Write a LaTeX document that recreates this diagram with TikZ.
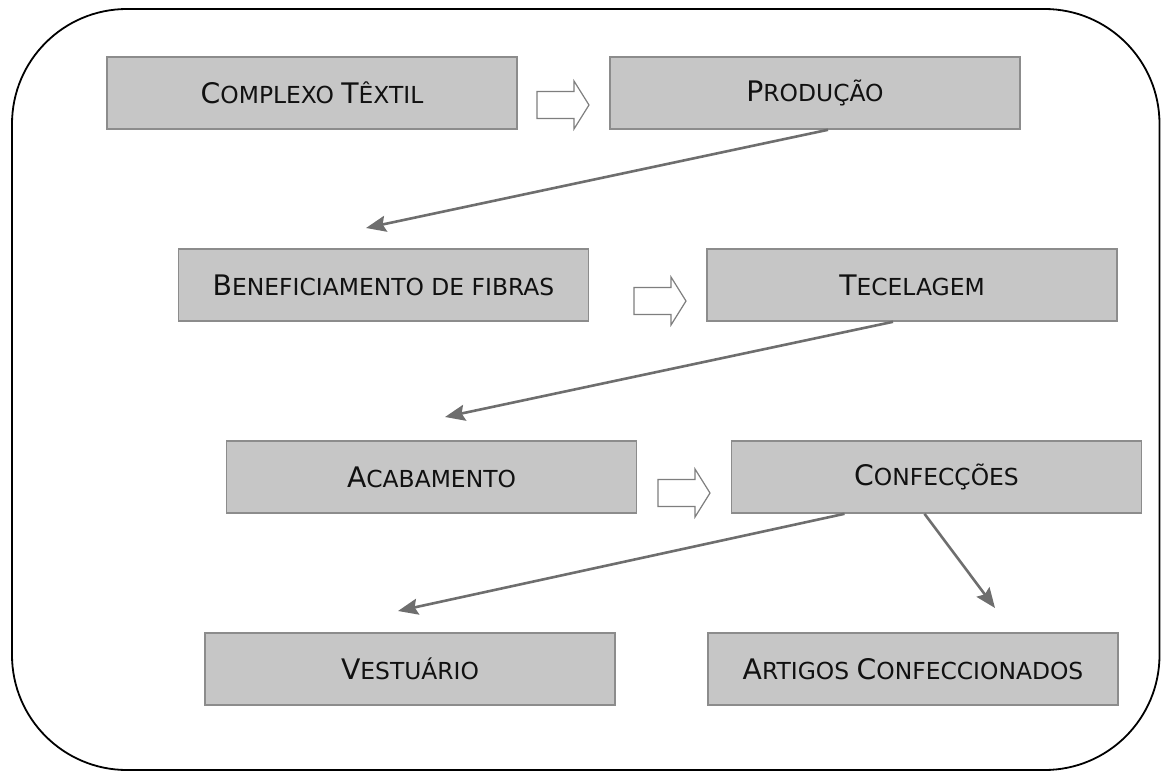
\documentclass[tikz,border=0pt]{standalone}
\usepackage{fontspec}
\setmainfont{DejaVu Sans}
\usetikzlibrary{arrows.meta,calc}
\definecolor{boxfill}{HTML}{C6C6C6}
\definecolor{boxline}{HTML}{8C8C8C}
\definecolor{conncol}{HTML}{6E6E6E}
\definecolor{txtcol}{HTML}{111111}
\newcommand\SCap[2]{{\fontsize{28.3}{32}\selectfont #1}{\fontsize{23.4}{28}\selectfont #2}}
\tikzset{
  stagebox/.style={draw=boxline, line width=1.6pt, fill=boxfill, minimum width=410pt, minimum height=72pt, inner sep=0pt, text=txtcol},
  conn/.style={draw=conncol, line width=2.6pt, -{Stealth[length=20pt,width=16pt,inset=3pt]}},
  frameline/.style={draw=black, line width=1.8pt, rounded corners=115pt},
  blockarrow/.pic={
    \draw[draw=boxline!90!black, line width=1.2pt, fill=white, line join=miter]
      (-26,-13.5) -- (11,-13.5) -- (11,-24) -- (26,0) -- (11,24) -- (11,13.5) -- (-26,13.5) -- cycle;
  }
}
\begin{document}
\begin{tikzpicture}[x=1pt,y=-1pt]
\useasboundingbox (0,0) rectangle (1161,773);
\draw[frameline] (12,9) rectangle (1159.5,770);

\node[stagebox] (b1) at (312,93) {\SCap{C}{OMPLEXO }\SCap{T}{ÊXTIL}};
\node[stagebox] (b2) at (815,93) {\SCap{P}{RODUÇÃO}};
\node[stagebox] (b3) at (383.5,285) {\SCap{B}{ENEFICIAMENTO DE FIBRAS}};
\node[stagebox] (b4) at (912,285) {\SCap{T}{ECELAGEM}};
\node[stagebox] (b5) at (431.5,477) {\SCap{A}{CABAMENTO}};
\node[stagebox] (b6) at (936.5,477) {\SCap{C}{ONFECÇÕES}};
\node[stagebox] (b7) at (410,669) {\SCap{V}{ESTUÁRIO}};
\node[stagebox] (b8) at (913,669) {\SCap{A}{RTIGOS }\SCap{C}{ONFECCIONADOS}};

\pic at (563,105) {blockarrow};
\pic at (660,301) {blockarrow};
\pic at (684,493) {blockarrow};

\coordinate (t1) at (366,228);
\coordinate (t2) at (445,417);
\coordinate (t3) at (398,611);
\coordinate (t4) at (995,608);

\draw[conn] ([xshift=13pt]b2.south) -- (t1);
\draw[conn] ([xshift=-19pt]b4.south) -- (t2);
\draw[conn] ([xshift=-92pt]b6.south) -- (t3);
\draw[conn] ([xshift=-12pt]b6.south) -- (t4);
\end{tikzpicture}
\end{document}
